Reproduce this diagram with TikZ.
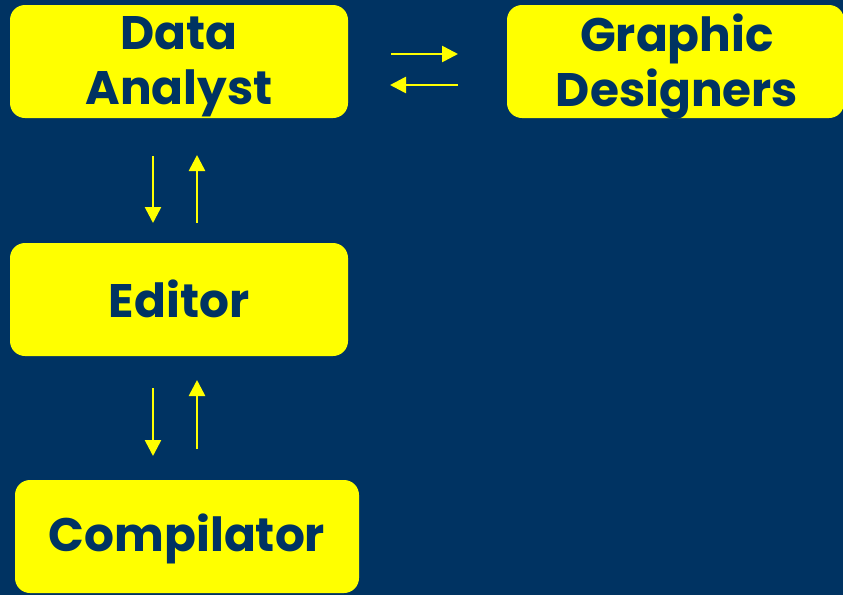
\documentclass[tikz,border=0pt]{standalone}
\usepackage{fontspec}
\setmainfont{Poppins}[BoldFont={* Bold}]
\usetikzlibrary{arrows.meta}
\definecolor{navy}{RGB}{0,51,98}
\definecolor{yell}{RGB}{255,255,0}
\tikzset{
  box/.style={fill=yell, rounded corners=15pt, inner sep=0pt,
    minimum height=113pt},
  boxtext/.style={inner sep=0pt, align=center,
    text=navy, font=\fontsize{47}{55}\selectfont\bfseries},
  flow/.style={draw=yell, line width=2.6pt, -{Triangle[length=16pt,width=16pt]}}
}
\begin{document}
\begin{tikzpicture}[x=1pt,y=-1pt]
\fill[navy] (0,0) rectangle (843,595);
\useasboundingbox (0,0) rectangle (843,595);
\node[box, minimum width=338pt] (da) at (179,61.5) {};
\node[box, minimum width=337pt] (gd) at (675.5,61.5) {};
\node[box, minimum width=338pt] (ed) at (179,299.5) {};
\node[box, minimum width=344pt] (co) at (187,536.5) {};
\node[boxtext] (dat) at (179,67) {Data\\Analyst};
\node[boxtext] (gdt) at (677,67) {Graphic\\Designers};
\node[boxtext] (edt) at (179,299) {Editor};
\node[boxtext] (cot) at (187,539) {Compilator};
\coordinate (h1a) at (391,54); \coordinate (h1b) at (458,54);
\coordinate (h2a) at (458,85); \coordinate (h2b) at (390,85);
\coordinate (v1a) at (153,156); \coordinate (v1b) at (153,223);
\coordinate (v2a) at (197,223); \coordinate (v2b) at (197,155);
\coordinate (v3a) at (153,388); \coordinate (v3b) at (153,456);
\coordinate (v4a) at (197,449); \coordinate (v4b) at (197,380);
\draw[flow] (h1a) -- (h1b);
\draw[flow] (h2a) -- (h2b);
\draw[flow] (v1a) -- (v1b);
\draw[flow] (v2a) -- (v2b);
\draw[flow] (v3a) -- (v3b);
\draw[flow] (v4a) -- (v4b);
\end{tikzpicture}
\end{document}
